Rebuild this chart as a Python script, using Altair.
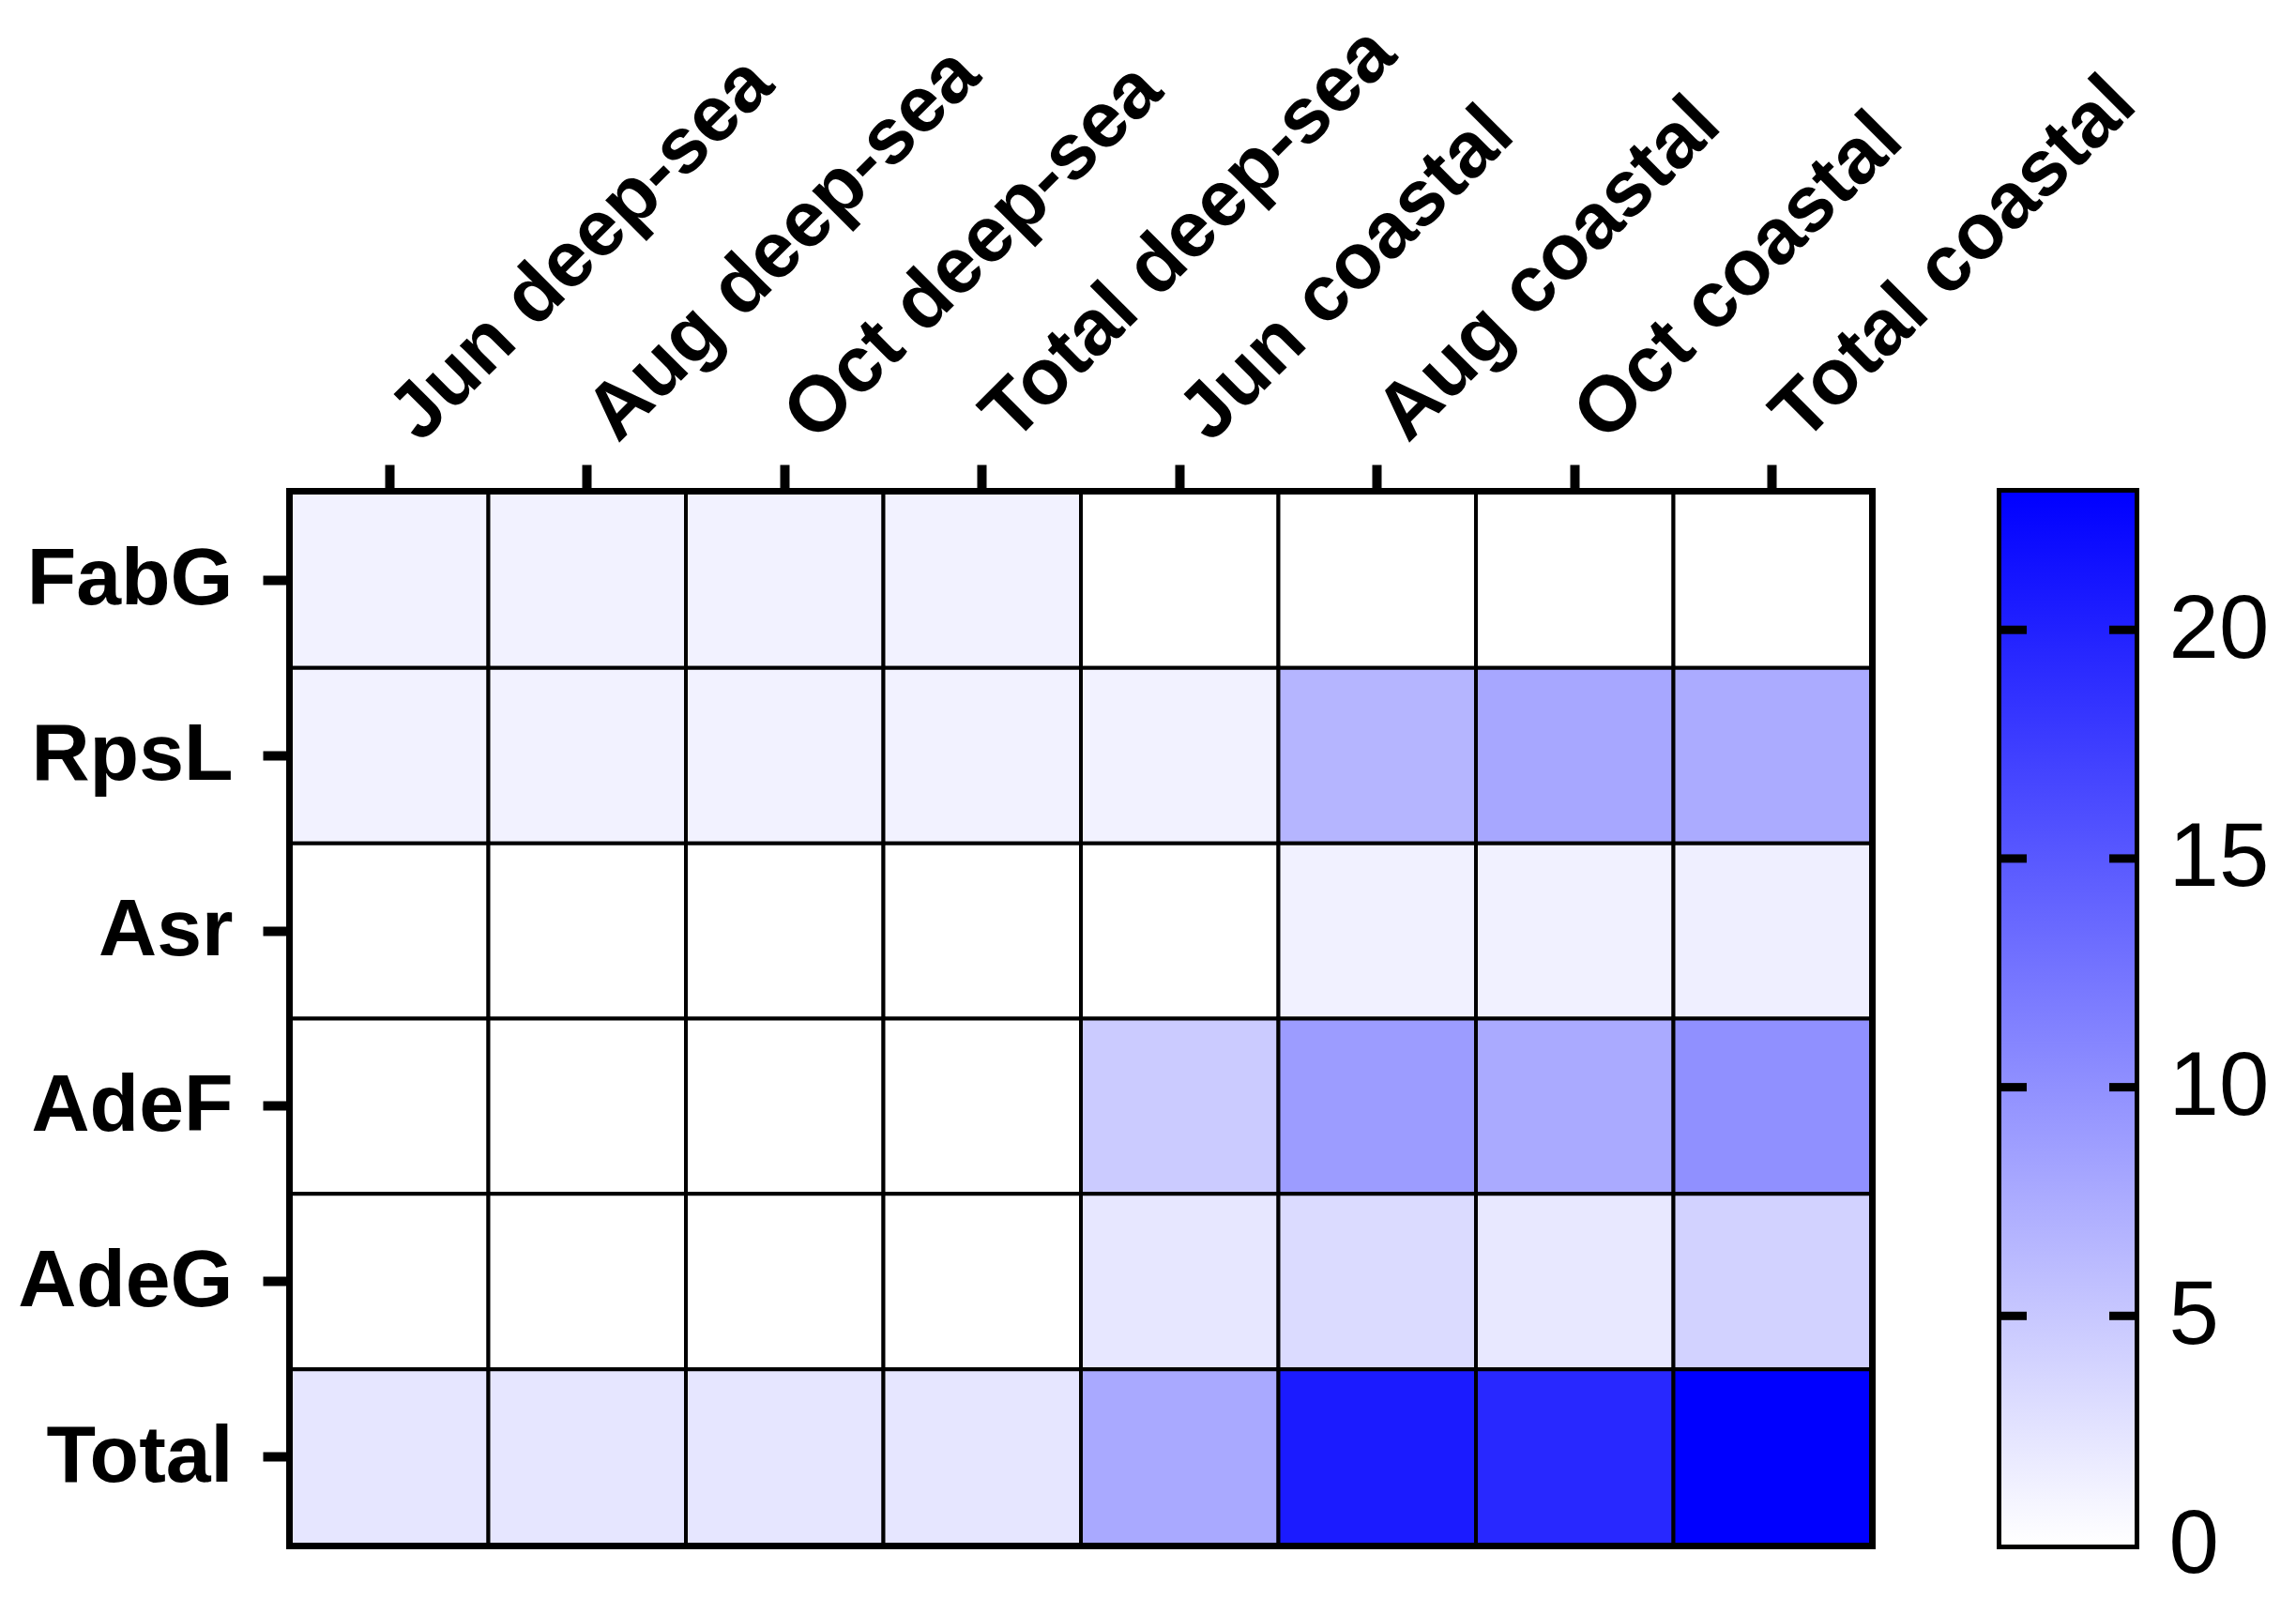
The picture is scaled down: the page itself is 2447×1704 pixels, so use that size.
import altair as alt
import pandas as pd

columns = ["Jun deep-sea", "Aug deep-sea", "Oct deep-sea", "Total deep-sea",
           "Jun coastal", "Aug coastal", "Oct coastal", "Total coastal"]
rows = ["FabG", "RpsL", "Asr", "AdeF", "AdeG", "Total"]

fabg = [1.15, 1.15, 1.15, 1.15, 0, 0, 0, 0]
rpsl = [1.15, 1.15, 1.15, 1.15, 1.2, 6.7, 7.9, 7.6]
asr = [0, 0, 0, 0, 0, 1.3, 1.3, 1.4]
adef = [0, 0, 0, 0, 4.7, 8.9, 7.7, 10.0]
adeg = [0, 0, 0, 0, 2.2, 3.25, 2.1, 4.05]
total = [2.3, 2.3, 2.3, 2.3, 7.8, 20.6, 19.4, 23.0]

color_domain = [0, 23]
colorbar_labels = [0, 5, 10, 15, 20]
colorbar_inner_ticks = [5, 10, 15, 20]

series = {"FabG": fabg, "RpsL": rpsl, "Asr": asr, "AdeF": adef, "AdeG": adeg, "Total": total}
records = []
for r in rows:
    for c, v in zip(columns, series[r]):
        records.append({"row": r, "column": c, "value": v})
df = pd.DataFrame(records)

FONT = "Liberation Sans"
color_scale = alt.Scale(domain=color_domain, range=["#ffffff", "#0000ff"], interpolate="rgb")

heat = alt.Chart(df).mark_rect(stroke="black", strokeWidth=4).encode(
    x=alt.X("column:N", sort=columns, title=None,
            scale=alt.Scale(paddingInner=0, paddingOuter=0),
            axis=alt.Axis(orient="top", labelAngle=-45, labelAlign="left", labelBaseline="middle",
                          labelFontSize=84, labelFontWeight="bold", labelFont=FONT, labelColor="black",
                          labelLimit=2000, labelPadding=40, labelOffset=15, tickSize=30, tickWidth=10,
                          tickColor="black", domain=False, grid=False)),
    y=alt.Y("row:N", sort=rows, title=None,
            scale=alt.Scale(paddingInner=0, paddingOuter=0),
            axis=alt.Axis(orient="left", labelFontSize=86, labelFontWeight="bold", labelFont=FONT,
                          labelColor="black", labelLimit=2000, labelPadding=32, tickSize=30,
                          tickWidth=10, tickColor="black", domain=False, grid=False)),
    color=alt.Color("value:Q", scale=color_scale, legend=None),
).properties(width=1684, height=1121)

cb_df = pd.DataFrame({"lo": [color_domain[0]], "hi": [color_domain[1]]})
cb_scale = alt.Scale(domain=color_domain, nice=False, zero=False)
cb_axis = alt.Axis(orient="right", values=colorbar_labels, ticks=False, domain=False, grid=False,
                   labelFontSize=96, labelFont=FONT, labelColor="black", labelPadding=36,
                   labelFontWeight="normal", title=None)

gradient = alt.Chart(cb_df).mark_rect(
    color=alt.Gradient(gradient="linear",
                       stops=[alt.GradientStop(color="#ffffff", offset=0),
                              alt.GradientStop(color="#0000ff", offset=1)],
                       x1=0, x2=0, y1=1, y2=0)
).encode(
    y=alt.Y("lo:Q", scale=cb_scale, title=None, axis=cb_axis),
    y2="hi:Q",
    x=alt.value(0), x2=alt.value(142),
)

tick_df = pd.DataFrame({"v": colorbar_inner_ticks})
left_ticks = alt.Chart(tick_df).mark_rule(color="black", strokeWidth=9).encode(
    y=alt.Y("v:Q", scale=cb_scale, title=None, axis=cb_axis), x=alt.value(0), x2=alt.value(27))
right_ticks = alt.Chart(tick_df).mark_rule(color="black", strokeWidth=9).encode(
    y=alt.Y("v:Q", scale=cb_scale, title=None, axis=cb_axis), x=alt.value(115), x2=alt.value(142))

colorbar = alt.layer(gradient, left_ticks, right_ticks).properties(width=142, height=1121)

chart = alt.hconcat(heat, colorbar, spacing=139, bounds="flush").configure(
    font=FONT
).configure_view(
    stroke="black", strokeWidth=10
).properties(
    padding={"left": 5, "top": 0, "right": 5, "bottom": 5}
)

chart.save("out.html", embed_options={"renderer": "svg", "actions": False})
